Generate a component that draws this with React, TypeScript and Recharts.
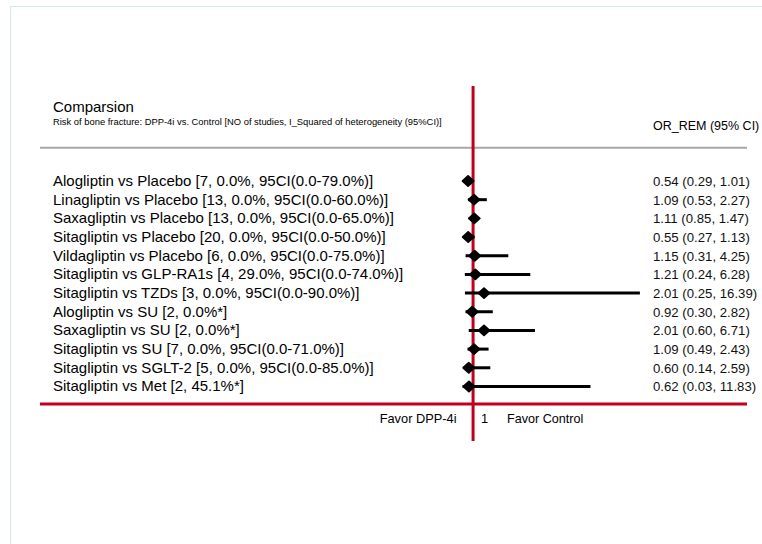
import { ScatterChart, Scatter, XAxis, YAxis, ErrorBar, ReferenceLine } from "recharts";

const comparisons = [
  "Alogliptin vs Placebo [7, 0.0%, 95CI(0.0-79.0%)]",
  "Linagliptin vs Placebo [13, 0.0%, 95CI(0.0-60.0%)]",
  "Saxagliptin vs Placebo [13, 0.0%, 95CI(0.0-65.0%)]",
  "Sitagliptin vs Placebo [20, 0.0%, 95CI(0.0-50.0%)]",
  "Vildagliptin vs Placebo [6, 0.0%, 95CI(0.0-75.0%)]",
  "Sitagliptin vs GLP-RA1s [4, 29.0%, 95CI(0.0-74.0%)]",
  "Sitagliptin vs TZDs [3, 0.0%, 95CI(0.0-90.0%)]",
  "Alogliptin vs SU [2, 0.0%*]",
  "Saxagliptin vs SU [2, 0.0%*]",
  "Sitagliptin vs SU [7, 0.0%, 95CI(0.0-71.0%)]",
  "Sitagliptin vs SGLT-2 [5, 0.0%,  95CI(0.0-85.0%)]",
  "Sitagliptin vs Met [2, 45.1%*]",
];
const orValues = [0.54, 1.09, 1.11, 0.55, 1.15, 1.21, 2.01, 0.92, 2.01, 1.09, 0.6, 0.62];
const ciLower = [0.29, 0.53, 0.85, 0.27, 0.31, 0.24, 0.25, 0.3, 0.6, 0.49, 0.14, 0.03];
const ciUpper = [1.01, 2.27, 1.47, 1.13, 4.25, 6.28, 16.39, 2.82, 6.71, 2.43, 2.59, 11.83];

const title = "Comparsion";
const subtitle =
  "Risk of bone fracture: DPP-4i vs. Control [NO of studies, I_Squared of heterogeneity (95%CI)]";
const estimateHeader = "OR_REM (95% CI)";

const FONT = "'Liberation Sans', Arial, sans-serif";
const RED = "#c0001c";

const fmt = (v: number) => v.toFixed(2);

const rows = comparisons.map((name, i) => ({
  row: i,
  name,
  or: orValues[i],
  err: [orValues[i] - ciLower[i], ciUpper[i] - orValues[i]],
  text: `${fmt(orValues[i])} (${fmt(ciLower[i])}, ${fmt(ciUpper[i])})`,
}));
const rowTicks = rows.map((r) => r.row);

// row units: header rule and bottom rule sit between rows
const Y_DOMAIN: [number, number] = [-5.086, 13.92];
const X_DOMAIN: [number, number] = [-38.95, 26.27];

function LabelTick({ y, payload }: any) {
  const r = rows[payload.value];
  if (!r) return null;
  return (
    <text x={53} y={y} dy={5} fontSize={15} fontFamily={FONT} fill="#000">
      {r.name}
    </text>
  );
}

function ValueTick({ y, payload }: any) {
  const r = rows[payload.value];
  if (!r) return null;
  return (
    <text x={653} y={y} dy={5} fontSize={13.2} fontFamily={FONT} fill="#111">
      {r.text}
    </text>
  );
}

function Diamond({ cx, cy }: any) {
  return (
    <path
      d={`M${cx - 5.5},${cy} L${cx},${cy - 5} L${cx + 5.5},${cy} L${cx},${cy + 5} Z`}
      fill="#000"
      stroke="#000"
      strokeWidth={1.8}
      strokeLinejoin="round"
    />
  );
}

export default function App() {
  return (
    <div style={{ position: "absolute", left: 0, top: 0, width: 762, height: 544, background: "#fff" }}>
      <div
        style={{
          position: "absolute",
          left: 10,
          top: 6,
          width: 752,
          height: 538,
          borderLeft: "1px solid #d6e6ed",
          borderTop: "1px solid #d6e6ed",
        }}
      />
      <ScatterChart width={762} height={544} margin={{ top: 86, right: 14, bottom: 103, left: 39 }}>
        <XAxis type="number" dataKey="or" domain={X_DOMAIN} allowDataOverflow hide />
        <YAxis
          type="number"
          dataKey="row"
          domain={Y_DOMAIN}
          allowDataOverflow
          reversed
          width={1}
          ticks={rowTicks}
          interval={0}
          axisLine={false}
          tickLine={false}
          tick={<LabelTick />}
        />
        <YAxis
          yAxisId="right"
          orientation="right"
          type="number"
          domain={Y_DOMAIN}
          allowDataOverflow
          reversed
          width={1}
          ticks={rowTicks}
          interval={0}
          axisLine={false}
          tickLine={false}
          tick={<ValueTick />}
        />
        <ReferenceLine y={-1.783} stroke="#a8a8a8" strokeWidth={2} />
        <ReferenceLine y={11.938} stroke={RED} strokeWidth={3} />
        <ReferenceLine x={1} stroke={RED} strokeWidth={3} />
        <Scatter data={rows} shape={<Diamond />} isAnimationActive={false}>
          <ErrorBar dataKey="err" direction="x" width={0} stroke="#000" strokeWidth={3} />
        </Scatter>
      </ScatterChart>
      <svg
        width={762}
        height={544}
        style={{ position: "absolute", left: 0, top: 0, pointerEvents: "none" }}
        fontFamily={FONT}
      >
        <text x={53} y={112} fontSize={15} fill="#000">
          {title}
        </text>
        <text x={53} y={125} fontSize={9.4} fill="#000">
          {subtitle}
        </text>
        <text x={653} y={130} fontSize={12.5} fill="#000">
          {estimateHeader}
        </text>
        <text x={456.5} y={423} fontSize={12.8} fill="#000" textAnchor="end">
          Favor DPP-4i
        </text>
        <text x={481} y={423} fontSize={12.8} fill="#000">
          1
        </text>
        <text x={507} y={423} fontSize={12.6} fill="#000">
          Favor Control
        </text>
      </svg>
    </div>
  );
}
